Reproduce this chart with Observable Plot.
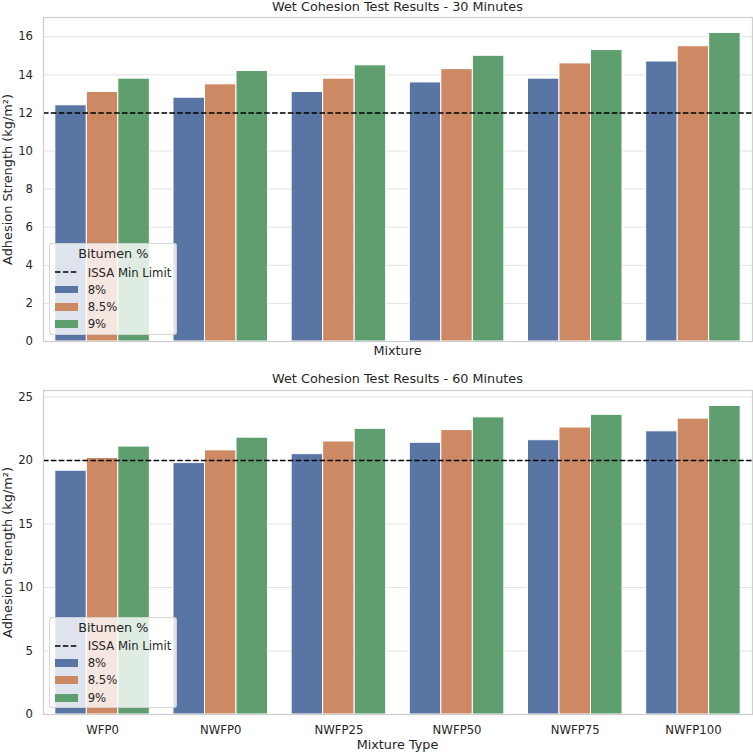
<!DOCTYPE html>
<html>
<head>
<meta charset="utf-8">
<script src="https://cdn.jsdelivr.net/npm/d3@7"></script>
<script src="https://cdn.jsdelivr.net/npm/@observablehq/plot@0.6"></script>
<style>
  body { margin: 0; background: #fff; }
  #root { position: relative; width: 753px; height: 754px; overflow: hidden;
          font-family: "DejaVu Sans", sans-serif; color: #262626; }
  .abs { position: absolute; white-space: nowrap; }
  .title, .xlabel { font-size: 12.8px; line-height: 12.8px; text-align: center; }
  .ylabel { font-size: 12.9px; line-height: 12.9px; height: 12.9px; width: 300px;
            text-align: center; transform: rotate(-90deg); }
  .legend { background: rgba(255,255,255,0.8); border: 1px solid rgba(204,204,204,0.8);
            border-radius: 3px; box-sizing: border-box; }
  .legend .ltitle { font-size: 12.8px; line-height: 12.8px; width: 100%; text-align: center; }
  .legend .ltext { font-size: 11.7px; line-height: 11.7px; }
  .legend .swatch { width: 23.3px; height: 7.7px; }
  .legend svg.dash { position: absolute; overflow: visible; }
  #root > svg { position: absolute; left: 0; }
</style>
</head>
<body>
<div id="root"></div>
<script>
// Mixture types along the x axis and the three bitumen contents per mixture
const mixtures = ["WFP0", "NWFP0", "NWFP25", "NWFP50", "NWFP75", "NWFP100"];
const bitumen = ["8%", "8.5%", "9%"];
const bitumenColors = ["#5975a4", "#cc8963", "#5f9e6e"];

// Wet cohesion after 30 minutes (kg/m²)
const wc30_8 = [12.4, 12.8, 13.1, 13.6, 13.8, 14.7];
const wc30_85 = [13.1, 13.5, 13.8, 14.3, 14.6, 15.5];
const wc30_9 = [13.8, 14.2, 14.5, 15.0, 15.3, 16.2];

// Wet cohesion after 60 minutes (kg/m²)
const wc60_8 = [19.2, 19.8, 20.5, 21.4, 21.6, 22.3];
const wc60_85 = [20.2, 20.8, 21.5, 22.4, 22.6, 23.3];
const wc60_9 = [21.1, 21.8, 22.5, 23.4, 23.6, 24.3];

// ISSA minimum limits
const issa30 = 12;
const issa60 = 20;

// Axis tick values
const yTicks30 = [0, 2, 4, 6, 8, 10, 12, 14, 16];
const yTicks60 = [0, 5, 10, 15, 20, 25];

const root = document.getElementById("root");

// One row per bar; bars are dodged within each mixture slot (group width 0.8)
function buildRows(series) {
  const rows = [];
  const w = 0.8 / bitumen.length;
  mixtures.forEach((m, i) => {
    series.forEach((vals, j) => {
      const x1 = i - 0.4 + j * w;
      rows.push({mixture: m, bitumen: bitumen[j], value: vals[i], x1, x2: x1 + w});
    });
  });
  return rows;
}

function chart({series, limit, yTicks, height, marginTop, marginBottom, xTicks}) {
  const rows = buildRows(series);
  const yMax = d3.max(rows, d => d.value) * 1.05;
  return Plot.plot({
    width: 753,
    height,
    marginTop,
    marginBottom,
    marginLeft: 43,
    marginRight: 1,
    style: {fontFamily: "DejaVu Sans, sans-serif", fontSize: "11.7px", color: "#262626", background: "transparent", overflow: "visible"},
    x: {domain: [-0.5, mixtures.length - 0.5], axis: null},
    y: {domain: [0, yMax], axis: null},
    color: {domain: bitumen, range: bitumenColors},
    marks: [
      Plot.gridY(yTicks, {stroke: "#e3e3e3", strokeOpacity: 1, strokeWidth: 1}),
      Plot.rectY(rows, {x1: "x1", x2: "x2", y1: 0, y2: "value", fill: "bitumen", stroke: "white", strokeWidth: 1}),
      Plot.ruleY([limit], {stroke: "black", strokeWidth: 1.5, strokeDasharray: "5.5,2.4"}),
      Plot.frame({stroke: "#cfcfcf", strokeWidth: 1.25}),
      Plot.axisY(yTicks, {tickSize: 0, tickPadding: 10.5, label: null, fill: "#262626"}),
      xTicks
        ? Plot.axisX(d3.range(mixtures.length), {tickSize: 0, tickPadding: 11, tickFormat: i => mixtures[i], label: null, fill: "#262626"})
        : null
    ]
  });
}

function addDiv(cls, text, css) {
  const d = document.createElement("div");
  d.className = "abs " + cls;
  if (text != null) d.textContent = text;
  Object.assign(d.style, css);
  root.appendChild(d);
  return d;
}

function legend(boxTop) {
  const box = addDiv("legend", null, {left: "49.3px", top: boxTop + "px", width: "128px", height: "91.5px"});
  const add = (cls, text, css) => {
    const d = document.createElement("div");
    d.className = "abs " + cls;
    if (text != null) d.textContent = text;
    Object.assign(d.style, css);
    box.appendChild(d);
  };
  add("ltitle", "Bitumen %", {left: "0px", top: "4.2px"});
  // dashed limit handle
  const ns = "http://www.w3.org/2000/svg";
  const s = document.createElementNS(ns, "svg");
  s.setAttribute("class", "dash");
  s.setAttribute("width", "24");
  s.setAttribute("height", "4");
  Object.assign(s.style, {left: "4.7px", top: "26px"});
  const ln = document.createElementNS(ns, "line");
  ln.setAttribute("x1", 0); ln.setAttribute("x2", 23.3);
  ln.setAttribute("y1", 2); ln.setAttribute("y2", 2);
  ln.setAttribute("stroke", "black");
  ln.setAttribute("stroke-width", 1.5);
  ln.setAttribute("stroke-dasharray", "5.5,2.4");
  s.appendChild(ln);
  box.appendChild(s);
  add("ltext", "ISSA Min Limit", {left: "37.4px", top: "23.8px"});
  bitumen.forEach((b, j) => {
    const y = 41.4 + j * 17.4;
    add("swatch", null, {left: "4.7px", top: y + "px", background: bitumenColors[j]});
    add("ltext", b, {left: "37.4px", top: (y - 1) + "px"});
  });
}

// 30-minute panel
const panel30 = chart({
  series: [wc30_8, wc30_85, wc30_9], limit: issa30, yTicks: yTicks30,
  height: 365, marginTop: 17, marginBottom: 24, xTicks: false
});
panel30.style.top = "0px";
root.appendChild(panel30);

// 60-minute panel
const panel60 = chart({
  series: [wc60_8, wc60_85, wc60_9], limit: issa60, yTicks: yTicks60,
  height: 389, marginTop: 25, marginBottom: 40, xTicks: true
});
panel60.style.top = "365px";
root.appendChild(panel60);

// Titles and axis labels
addDiv("title", "Wet Cohesion Test Results - 30 Minutes", {left: "43px", width: "709px", top: "0.7px"});
addDiv("xlabel", "Mixture", {left: "43px", width: "709px", top: "345px"});
addDiv("ylabel", "Adhesion Strength (kg/m²)", {left: (7.8 - 150) + "px", top: (179 - 6.45) + "px"});

addDiv("title", "Wet Cohesion Test Results - 60 Minutes", {left: "43px", width: "709px", top: "372.7px"});
addDiv("xlabel", "Mixture Type", {left: "43px", width: "709px", top: "739px"});
addDiv("ylabel", "Adhesion Strength (kg/m²)", {left: (7.8 - 150) + "px", top: (552 - 6.45) + "px"});

legend(243.3);
legend(616.7);
</script>
</body>
</html>
